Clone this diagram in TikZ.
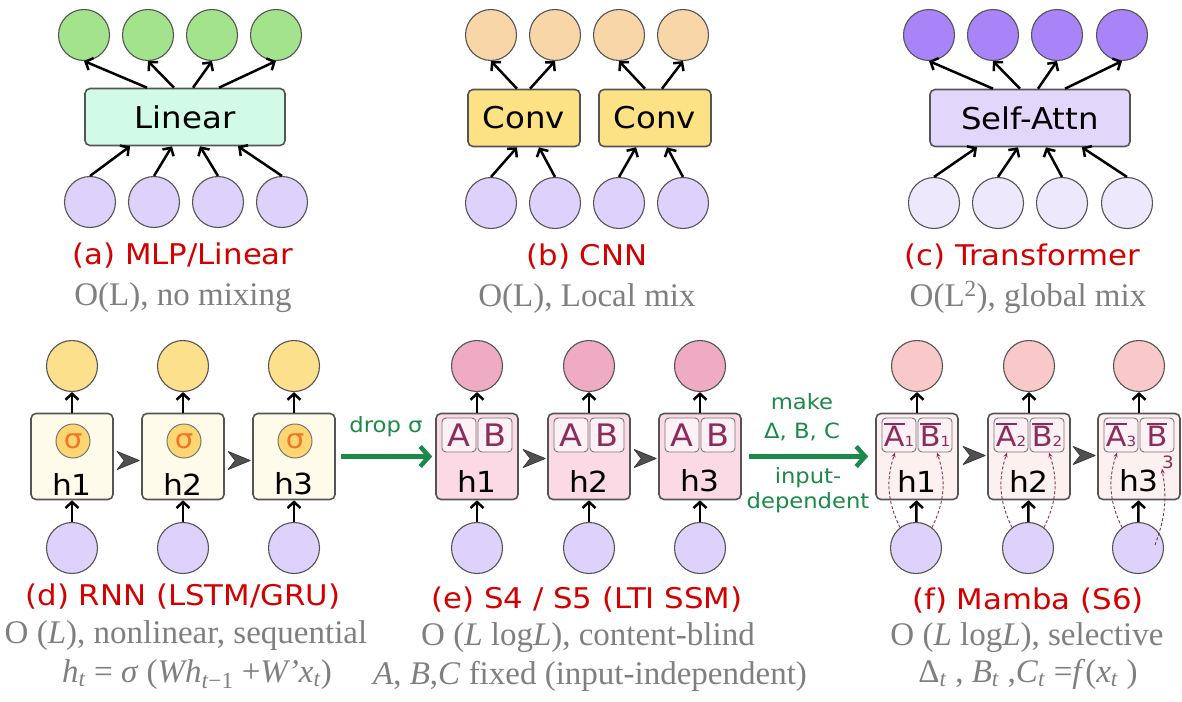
\documentclass[tikz,border=0pt]{standalone}
\usepackage{fontspec}
\setmainfont{Liberation Serif}
\newfontfamily\cf[FakeStretch=1.08]{DejaVu Sans}
\usetikzlibrary{arrows.meta,calc}
\definecolor{bord}{HTML}{555555}
\definecolor{cgreen}{HTML}{A3E38C}
\definecolor{mint}{HTML}{D2FAE8}
\definecolor{lav}{HTML}{DDD2FB}
\definecolor{peach}{HTML}{F8D6A8}
\definecolor{convy}{HTML}{FCE185}
\definecolor{purp}{HTML}{A884F8}
\definecolor{attn}{HTML}{E2D6FB}
\definecolor{lavl}{HTML}{EEE8FD}
\definecolor{yel}{HTML}{FCE08C}
\definecolor{cream}{HTML}{FEFBEB}
\definecolor{sigf}{HTML}{FDD671}
\definecolor{sigc}{HTML}{F27521}
\definecolor{pinkc}{HTML}{EFABC4}
\definecolor{sfour}{HTML}{FCDAE5}
\definecolor{subf}{HTML}{FDF1F5}
\definecolor{mar}{HTML}{8B2D5A}
\definecolor{mambac}{HTML}{F9C9C9}
\definecolor{mambaf}{HTML}{FCF0F1}
\definecolor{tred}{HTML}{D40000}
\definecolor{tgray}{HTML}{7F7F7F}
\definecolor{dgreen}{HTML}{1B8A48}
\definecolor{chev}{HTML}{505050}
\newcommand{\ovl}[1]{\vbox{\hrule height 1.5pt\kern 1.6pt\hbox{#1}}}
\begin{document}
\begin{tikzpicture}[x=1pt,y=-1pt,
  cir/.style={circle,draw=bord,line width=1.1pt,minimum size=51pt,inner sep=0pt},
  bx/.style={draw=bord,line width=1.6pt,rounded corners=5pt,inner sep=0pt,minimum height=57pt,font=\cf\fontsize{30}{32}\selectfont},
  hb/.style={draw=bord,line width=1.6pt,rounded corners=5pt,inner sep=0pt,minimum width=82pt,minimum height=86pt},
  arr/.style={line width=2.5pt,-{Straight Barb[length=6pt,width=13pt]}},
  sig/.style={circle,draw=bord!80,line width=1pt,fill=sigf,minimum size=34pt,inner sep=0pt,text=sigc,font=\cf\fontsize{27}{28}\selectfont},
  hl/.style={inner sep=0pt,font=\cf\fontsize{29}{30}\selectfont},
  sb/.style={draw=bord!80,line width=0.9pt,rounded corners=4pt,fill=subf,minimum size=34pt,inner sep=0pt,text=mar,font=\cf\fontsize{31}{31}\selectfont},
  sbf/.style={sb,font=\cf\fontsize{28}{28}\selectfont},
  chevf/.style={draw=chev!70!black,line width=0.8pt,fill=chev,line join=round},
  garr/.style={draw=dgreen,line width=4.5pt,-{Straight Barb[length=9pt,width=20pt]}},
  gl/.style={text=dgreen,inner sep=0pt,font=\cf\fontsize{21}{22}\selectfont},
  dsh/.style={draw=mar,line width=0.9pt,dash pattern=on 3pt off 2pt,-{Stealth[length=5pt,width=4pt]}},
  ttl/.style={text=tred,inner sep=0pt,font=\cf\fontsize{28.5}{30}\selectfont},
  sub/.style={text=tgray,inner sep=0pt,anchor=base,font=\fontsize{33}{35}\selectfont}]
\useasboundingbox (0,0) rectangle (1182,701);

% ---------- (a) MLP ----------
\foreach \x/\i in {84/1,148/2,212/3,276/4} \node[cir,fill=cgreen] (ao\i) at (\x,35) {};
\foreach \x/\i in {90/1,154/2,218/3,282/4} \node[cir,fill=lav] (ai\i) at (\x,202) {};
\node[bx,fill=mint,minimum width=200pt] (lin) at (185,117) {Linear};
\foreach \s/\i in {-38/1,-11/2,8/3,34/4} \draw[arr] ([xshift=\s pt]lin.north) -- (ao\i.south);
\foreach \s/\i in {-55/1,-13/2,15/3,53/4} \draw[arr] (ai\i.north) -- ([xshift=\s pt]lin.south);
\node[ttl] (ta) at (183,256) {(a) MLP/Linear};
\node[sub] (sa) at (183,305) {O(L), no mixing};

% ---------- (b) CNN ----------
\foreach \x/\i in {491/1,555/2,619/3,683/4} {
  \node[cir,fill=peach] (bo\i) at (\x,35) {};
  \node[cir,fill=lav] (bi\i) at (\x,203) {};
}
\node[bx,fill=convy,minimum width=112pt] (cv1) at (524,118) {Conv};
\node[bx,fill=convy,minimum width=112pt] (cv2) at (655,118) {Conv};
\draw[arr] ([xshift=-7pt]cv1.north) -- (bo1.south);
\draw[arr] ([xshift=6pt]cv1.north) -- (bo2.south);
\draw[arr] ([xshift=-10pt]cv2.north) -- (bo3.south);
\draw[arr] ([xshift=7pt]cv2.north) -- (bo4.south);
\draw[arr] (bi1.north) -- ([xshift=-7pt]cv1.south);
\draw[arr] (bi2.north) -- ([xshift=15pt]cv1.south);
\draw[arr] (bi3.north) -- ([xshift=-19pt]cv2.south);
\draw[arr] (bi4.north) -- ([xshift=12pt]cv2.south);
\node[ttl] (tb) at (587,257) {(b) CNN};
\node[sub] (sbt) at (587,306) {O(L), Local mix};

% ---------- (c) Transformer ----------
\foreach \x/\i in {929/1,993/2,1057/3,1122/4} \node[cir,fill=purp] (co\i) at (\x,35) {};
\foreach \x/\i in {934/1,998/2,1062/3,1127/4} \node[cir,fill=lavl] (ci\i) at (\x,203) {};
\node[bx,fill=attn,minimum width=200pt] (att) at (1030,118) {Self-Attn};
\foreach \s/\i in {-37/1,-10/2,8/3,35/4} \draw[arr] ([xshift=\s pt]att.north) -- (co\i.south);
\foreach \s/\i in {-53/1,-12/2,16/3,52/4} \draw[arr] (ci\i.north) -- ([xshift=\s pt]att.south);
\node[ttl] (tc) at (1022,257) {(c) Transformer};
\node[sub] (sc) at (1028,306) {O(L\textsuperscript{2}), global mix};

% ---------- (d) RNN ----------
\foreach \x/\i in {72/1,183/2,294/3} {
  \node[hb,fill=cream] (d\i) at (\x,456.5) {};
  \node[cir,fill=yel] (do\i) at (\x,366) {};
  \node[cir,fill=lav] (di\i) at (\x,548) {};
  \node[sig] (ds\i) at (\x+1,441) {σ};
  \node[hl] (dh\i) at (\x,484) {h\i};
  \draw[arr] (d\i) -- (do\i);
  \draw[arr] (di\i) -- (d\i);
}
\foreach \n in {d2,d3} \filldraw[chevf] ([shift={(-2pt,-4pt)}]\n.west) -- ++(-22,-9) -- ++(7,9) -- ++(-7,9) -- cycle;
\node[ttl] (td) at (183,597) {(d) RNN (LSTM/GRU)};
\node[sub] (sd) at (186,643) {O (\textit{L}), nonlinear, sequential};
\node[sub] (fd) at (197,682) {\textit{h}\textsubscript{\textit{t}} = \textit{σ} (\textit{Wh}\textsubscript{\textit{t}−1} +\textit{W'x}\textsubscript{\textit{t}})};

% ---------- (e) S4/S5 ----------
\foreach \x/\i in {477/1,589/2,700/3} {
  \node[hb,fill=sfour] (e\i) at (\x,456.5) {};
  \node[cir,fill=pinkc] (eo\i) at (\x,366) {};
  \node[cir,fill=lav] (ei\i) at (\x,548) {};
  \node[sb] (eA\i) at (\x-18,435) {A};
  \node[sb] (eB\i) at (\x+18,435) {B};
  \node[hl] (eh\i) at (\x,481) {h\i};
  \draw[arr] (e\i) -- (eo\i);
  \draw[arr] (ei\i) -- (e\i);
}
\foreach \n in {e2,e3} \filldraw[chevf] ([shift={(-2pt,-2pt)}]\n.west) -- ++(-22,-9) -- ++(7,9) -- ++(-7,9) -- cycle;
\node[ttl] (te) at (587,600) {(e) S4 / S5 (LTI SSM)};
\node[sub] (se) at (588,645) {O (\textit{L} log\textit{L}), content-blind};
\node[sub] (fe) at (590,684) {\textit{A}, \textit{B},\textit{C} fixed (input-independent)};

% ---------- (f) Mamba ----------
\foreach \x/\i in {917/1,1029/2,1139/3} {
  \node[hb,fill=mambaf] (f\i) at (\x,456.5) {};
  \node[cir,fill=mambac] (fo\i) at (\x,366) {};
  \node[cir,fill=lav] (fi\i) at (\x-1,548) {};
  \node[hl] (fh\i) at (\x,481) {h\i};
  \draw[arr] (f\i) -- (fo\i);
  \draw[arr] (fi\i) -- (f\i);
}
\node[sbf] (fA1) at (899,435) {\ovl{A}{\fontsize{14}{14}\selectfont 1}};
\node[sbf] (fB1) at (935,435) {\ovl{B}{\fontsize{14}{14}\selectfont 1}};
\node[sbf] (fA2) at (1011,435) {\ovl{A}{\fontsize{14}{14}\selectfont 2}};
\node[sbf] (fB2) at (1047,435) {\ovl{B}{\fontsize{14}{14}\selectfont 2}};
\node[sbf] (fA3) at (1121,435) {\ovl{A}{\fontsize{14}{14}\selectfont 3}};
\node[sbf] (fB3) at (1157,435) {\ovl{B}};
\node[text=mar,inner sep=0pt,font=\cf\fontsize{17}{17}\selectfont] (three) at (1168,462) {3};
\foreach \n in {f2,f3} \filldraw[chevf] ([shift={(-2pt,1pt)}]\n.west) -- ++(-22,-9) -- ++(7,9) -- ++(-7,9) -- cycle;
\foreach \i in {1,2} {
  \draw[dsh] (fi\i.128) to[bend left=22] ([xshift=-4pt]fA\i.south);
  \draw[dsh] (fi\i.52) to[bend right=22] ([xshift=2pt]fB\i.south);
}
\draw[dsh] (fi3.128) to[bend left=22] ([xshift=-4pt]fA3.south);
\draw[dsh] ([shift={(17pt,3pt)}]fi3.center) to[bend right=15] (three.south west);
\node[ttl] (tf) at (1028,601) {(f) Mamba (S6)};
\node[sub] (sf) at (1027,645) {O (\textit{L} log\textit{L}), selective};
\node[sub] (ff) at (1028,682) {Δ\textsubscript{\textit{t}} , \textit{B}\textsubscript{\textit{t}} ,\textit{C}\textsubscript{\textit{t}} =\textit{f}(\textit{x}\textsubscript{\textit{t}} )};

% ---------- transitions ----------
\draw[garr,shorten <=5pt,shorten >=3pt] (d3) -- (e1);
\node[gl] (gdrop) at (386,427) {drop σ};
\draw[garr,shorten <=7pt,shorten >=7pt] (e3) -- (f1);
\node[gl] (gmake) at (802,402) {make};
\node[gl] (gdbc) at (802,432) {Δ, B, C};
\node[gl] (ginp) at (808,478) {input-};
\node[gl] (gdep) at (808,503) {dependent};
\end{tikzpicture}
\end{document}
